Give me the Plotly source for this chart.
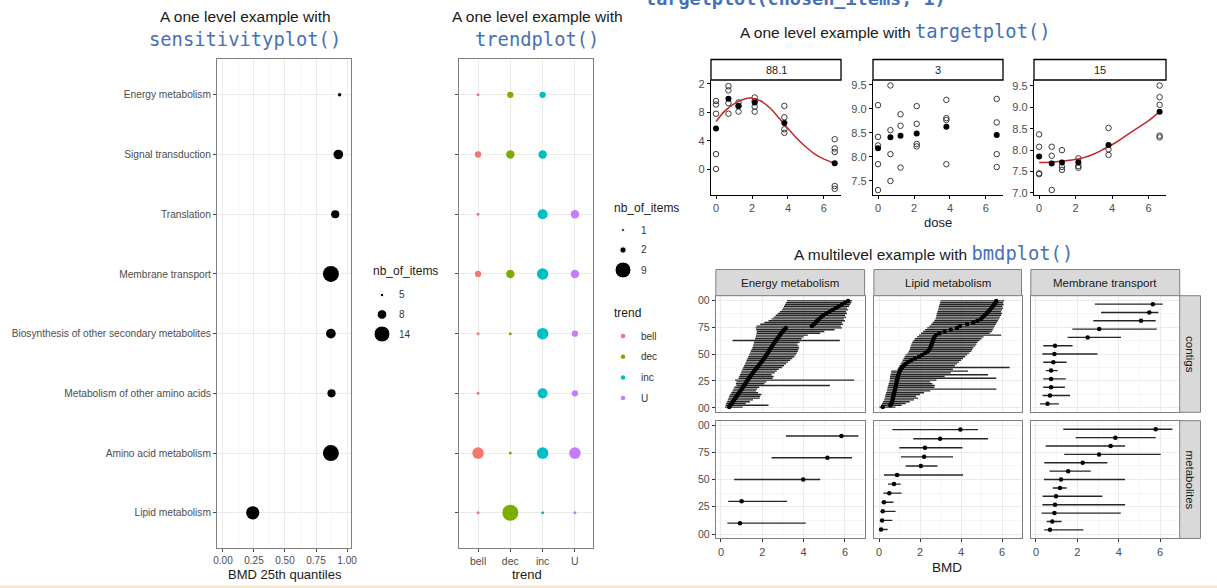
import numpy as np
import plotly.graph_objects as go

W, H = 1217, 588
def fx(p): return p / W
def fy(p): return 1 - p / H

# ---------------- data ----------------
pathways = ["Energy metabolism", "Signal transduction", "Translation", "Membrane transport",
            "Biosynthesis of other secondary metabolites", "Metabolism of other amino acids",
            "Amino acid metabolism", "Lipid metabolism"]
bmd25 = [0.94, 0.93, 0.905, 0.87, 0.87, 0.875, 0.87, 0.24]
nb_items_sens = [5, 8, 7, 14, 8, 7, 14, 11]
sens_legend_breaks = [5, 8, 14]

trend_levels = ["bell", "dec", "inc", "U"]
trend_colors = ["#F8766D", "#7CAE00", "#00BFC4", "#C77CFF"]
trend_bell = [1, 2, 1, 2, 1, 1, 5, 1]
trend_dec = [2, 3, None, 3, 1, None, 1, 9]
trend_inc = [2, 3, 4, 5, 5, 4, 5, 1]
trend_U = [None, None, 3, 3, 2, 2, 5, 1]
trend_legend_breaks = [1, 2, 9]

doses = [0, 0.69, 1.25, 2.15, 3.8, 6.6]
target_ids = ["88.1", "3", "15"]
t1_reps = [[8.96, 8.91, 8.78, 8.21, 8.00], [9.17, 9.11, 8.93, 8.78], [8.94, 8.89, 8.81],
           [9.01, 8.96, 8.88, 8.81], [8.89, 8.73, 8.56, 8.51], [8.42, 8.29, 8.24, 7.76, 7.72]]
t1_means = [8.57, 8.99, 8.89, 8.94, 8.65, 8.08]
t2_reps = [[9.08, 8.42, 8.24, 7.85, 7.31], [9.49, 8.56, 8.06, 7.50], [8.89, 8.65, 7.78],
           [9.06, 8.69, 8.27, 8.22], [9.19, 8.81, 8.77, 7.85], [9.21, 8.72, 8.06, 7.79]]
t2_means = [8.18, 8.41, 8.44, 8.49, 8.63, 8.46]
t3_reps = [[8.37, 8.08, 7.46, 7.44], [8.08, 7.87, 7.07], [8.00, 7.61, 7.54],
           [7.81, 7.63, 7.59], [8.52, 8.02, 7.89], [9.51, 9.24, 9.06, 8.34, 8.30]]
t3_means = [7.85, 7.69, 7.71, 7.72, 8.12, 8.90]
t1_curve_dose = [0, 0.5, 1, 1.5, 2, 2.5, 3, 3.5, 4, 4.5, 5, 5.5, 6, 6.6]
t1_curve_val = [8.67, 8.82, 8.92, 8.98, 9.00, 8.96, 8.86, 8.72, 8.57, 8.43, 8.31, 8.21, 8.14, 8.08]
t3_curve_dose = [0, 0.6, 1.2, 1.8, 2.4, 3.0, 3.6, 4.2, 4.8, 5.4, 6.0, 6.6]
t3_curve_val = [7.71, 7.72, 7.74, 7.77, 7.82, 7.91, 8.04, 8.18, 8.35, 8.52, 8.69, 8.90]

bmd_pathways = ["Energy metabolism", "Lipid metabolism", "Membrane transport"]
bmd_levels = ["contigs", "metabolites"]

energy_contigs_bmd = [0.40, 0.45, 0.52, 0.58, 0.63, 0.70, 0.76, 0.82, 0.88, 0.94,
                      1.00, 1.06, 1.12, 1.18, 1.23, 1.29, 1.35, 1.41, 1.47, 1.54,
                      1.61, 1.68, 1.75, 1.82, 1.88, 1.95, 2.02, 2.08, 2.14, 2.20,
                      2.26, 2.31, 2.36, 2.42, 2.48, 2.54, 2.60, 2.66, 2.72, 2.79,
                      2.85, 2.92, 2.99, 3.06, 3.14, 4.40, 4.50, 4.58, 4.66, 4.75,
                      4.85, 4.95, 5.10, 5.25, 5.40, 5.55, 5.70, 5.85, 6.00, 6.15]
energy_contigs_low = [0.20, 0.22, 0.25, 0.30, 0.33, 0.36, 0.40, 0.45, 0.50, 0.55,
                      0.60, 0.65, 0.75, 0.72, 0.75, 0.68, 0.85, 0.88, 0.92, 0.96,
                      1.00, 1.04, 1.08, 1.12, 1.16, 1.20, 1.24, 1.28, 1.32, 1.36,
                      1.40, 1.44, 1.48, 1.52, 1.55, 1.58, 1.60, 0.56, 1.65, 1.68,
                      1.70, 1.72, 1.74, 1.70, 1.68, 1.72, 1.90, 2.10, 2.30, 2.45,
                      2.55, 2.65, 2.75, 2.85, 2.95, 3.00, 3.05, 3.10, 3.15, 3.20]
energy_contigs_up = [1.05, 2.30, 1.20, 1.40, 1.55, 1.88, 1.90, 1.96, 1.80, 1.70,
                     1.75, 1.85, 5.27, 2.10, 2.20, 6.44, 2.50, 2.55, 2.45, 2.60,
                     2.70, 2.80, 2.95, 3.05, 3.15, 3.25, 3.35, 3.45, 3.55, 3.62,
                     3.68, 3.72, 3.75, 3.78, 3.75, 3.70, 3.80, 5.75, 3.90, 4.00,
                     4.20, 4.80, 5.00, 5.50, 5.85, 5.80, 5.90, 5.85, 6.00, 5.95,
                     6.05, 6.00, 6.10, 6.05, 6.15, 6.10, 6.20, 6.25, 6.30, 6.35]

lipid_contigs_bmd = [0.18, 0.55, 0.60, 0.63, 0.66, 0.68, 0.70, 0.72, 0.74, 0.76,
                     0.78, 0.80, 0.82, 0.84, 0.86, 0.88, 0.90, 0.92, 0.95, 0.98,
                     1.02, 1.06, 1.12, 1.20, 1.30, 1.42, 1.58, 1.75, 1.95, 2.10,
                     2.25, 2.38, 2.45, 2.50, 2.54, 2.57, 2.60, 2.63, 2.66, 2.70,
                     2.78, 2.95, 3.20, 3.50, 3.80, 3.95, 4.30, 4.60, 4.80, 4.98,
                     5.05, 5.15, 5.25, 5.32, 5.40, 5.48, 5.55, 5.62, 5.68, 5.72]
lipid_contigs_low = [0.02, 0.10, 0.15, 0.20, 0.25, 0.28, 0.30, 0.32, 0.35, 0.38,
                     0.40, 0.42, 0.45, 0.47, 0.50, 0.52, 0.53, 0.54, 0.56, 0.58,
                     0.60, 0.90, 0.95, 1.00, 1.05, 1.10, 1.15, 1.20, 1.25, 1.30,
                     1.40, 1.45, 1.50, 1.52, 1.55, 1.58, 1.62, 1.68, 1.75, 1.85,
                     1.95, 2.05, 2.15, 2.25, 2.35, 2.45, 2.55, 2.62, 2.70, 2.75,
                     2.78, 2.80, 2.82, 2.85, 2.88, 2.90, 2.92, 2.95, 2.98, 3.00]
lipid_contigs_up = [0.80, 1.10, 1.30, 1.50, 1.70, 1.90, 1.80, 2.00, 2.20, 2.50,
                    5.72, 2.70, 2.72, 2.60, 2.50, 2.80, 5.72, 3.20, 5.32, 3.50,
                    4.34, 3.60, 6.37, 3.70, 3.80, 3.90, 4.00, 4.10, 4.20, 4.30,
                    4.40, 4.50, 4.55, 4.60, 4.70, 4.75, 4.80, 4.90, 5.00, 5.10,
                    5.96, 5.40, 5.50, 5.55, 5.60, 5.65, 5.70, 5.75, 5.80, 5.85,
                    5.90, 5.95, 6.00, 5.95, 6.00, 6.05, 6.02, 6.08, 6.05, 6.10]

membrane_contigs_bmd = [0.56, 0.68, 0.73, 0.73, 0.73, 0.84, 0.89, 0.92, 2.50, 3.06, 5.08, 5.48, 5.65]
membrane_contigs_low = [0.19, 0.32, 0.35, 0.35, 0.48, 0.35, 0.31, 0.35, 1.53, 1.76, 2.77, 3.15, 2.85]
membrane_contigs_up = [1.11, 1.65, 1.40, 1.44, 1.05, 1.48, 2.97, 1.77, 4.11, 5.84, 5.79, 5.92, 6.13]

energy_metab_bmd = [0.92, 1.00, 3.98, 5.15, 5.83]
energy_metab_low = [0.31, 0.35, 0.64, 2.45, 3.14]
energy_metab_up = [4.10, 3.20, 4.80, 6.34, 6.65]

lipid_metab_bmd = [0.10, 0.15, 0.18, 0.24, 0.50, 0.73, 0.88, 2.04, 2.20, 2.24, 2.98, 3.97]
lipid_metab_low = [0.00, 0.05, 0.08, 0.13, 0.21, 0.44, 0.24, 1.30, 1.07, 0.99, 1.67, 0.65]
lipid_metab_up = [0.42, 0.65, 0.81, 0.70, 1.10, 1.05, 4.10, 2.85, 3.61, 4.07, 5.32, 4.83]

membrane_metab_bmd = [0.68, 0.79, 0.89, 0.92, 0.97, 1.16, 1.21, 1.56, 2.26, 3.05, 3.61, 3.84, 5.79]
membrane_metab_low = [0.40, 0.52, 0.27, 0.31, 0.32, 0.81, 0.39, 0.66, 0.40, 1.37, 0.47, 1.92, 1.32]
membrane_metab_up = [2.29, 1.24, 4.10, 4.31, 3.21, 1.48, 4.31, 2.65, 3.45, 6.03, 4.31, 5.79, 6.60]

# ---------------- styling ----------------
FONT = "Liberation Sans, Arial, sans-serif"
TITLEFONT = "Liberation Sans, Arial, sans-serif"
MONO = "DejaVu Sans Mono, Liberation Mono, monospace"
BLUE = "#4670B8"
TXT = "#4d4d4d"
GRID = "#EBEBEB"
MINOR = "#F5F5F5"
BORDER = "#808080"
TITLE_SIZE = 15.5
MONO_SIZE = 18.8


def size_sens(v):
    return float(np.sqrt(3.5 ** 2 + (16 ** 2 - 3.5 ** 2) * (v - 5) / 9))


def size_trend(v):
    return float(np.sqrt(3 ** 2 + (16 ** 2 - 3 ** 2) * (v - 1) / 8))


fig = go.Figure()
layout = dict(width=W, height=H, margin=dict(l=0, r=0, t=0, b=0, autoexpand=False), paper_bgcolor="white",
              plot_bgcolor="white", showlegend=False, font=dict(family=FONT, color="#1a1a1a"))
annotations = []
shapes = []


def ax_name(k, letter):
    return f"{letter}axis" if k == 1 else f"{letter}axis{k}"


def ref(k, letter):
    return letter if k == 1 else f"{letter}{k}"


def ann(x, y, text, size=12, color="#1a1a1a", family=FONT, xanchor="center", yanchor="middle", **kw):
    annotations.append(dict(x=fx(x), y=fy(y), xref="paper", yref="paper", text=text, showarrow=False,
                            font=dict(size=size, color=color, family=family), xanchor=xanchor,
                            yanchor=yanchor, **kw))

# ---------------- Panel A: sensitivityplot ----------------
row_dom = [fy(548), fy(59)]
fig.add_trace(go.Scatter(x=bmd25, y=pathways, mode="markers", xaxis="x", yaxis="y",
                         marker=dict(color="black", opacity=1, size=[size_sens(v) for v in nb_items_sens],
                                     line=dict(width=0))))
layout["xaxis"] = dict(domain=[fx(217), fx(351)], range=[-0.048, 1.032], anchor="y",
                       tickvals=[0, 0.25, 0.5, 0.75, 1.0], ticktext=["0.00", "0.25", "0.50", "0.75", "1.00"],
                       ticks="outside", ticklen=3, tickcolor=TXT, tickfont=dict(size=10, color=TXT),
                       showline=True, mirror=True, linecolor=BORDER, linewidth=1,
                       showgrid=True, gridcolor=GRID, zeroline=False,
                       minor=dict(tickvals=[0.125, 0.375, 0.625, 0.875], showgrid=True, gridcolor=MINOR))
layout["yaxis"] = dict(domain=row_dom, type="category", categoryorder="array",
                       categoryarray=pathways[::-1], range=[-0.59, 7.6], anchor="x",
                       ticks="outside", ticklen=3, tickcolor=TXT, tickfont=dict(size=10.2, color=TXT),
                       showline=True, mirror=True, linecolor=BORDER, linewidth=1,
                       showgrid=True, gridcolor=GRID, zeroline=False)
ann(245, 16, "A one level example with", size=TITLE_SIZE, family=TITLEFONT)
ann(245, 39, "sensitivityplot()", size=MONO_SIZE, family=MONO, color=BLUE)
ann(285, 574, "BMD 25th quantiles", size=13)

# ---------------- Panel B: trendplot ----------------
for lvl, col, vals in zip(trend_levels, trend_colors, [trend_bell, trend_dec, trend_inc, trend_U]):
    xs = [lvl for v in vals if v is not None]
    ys = [p for p, v in zip(pathways, vals) if v is not None]
    ss = [size_trend(v) for v in vals if v is not None]
    fig.add_trace(go.Scatter(x=xs, y=ys, mode="markers", xaxis="x2", yaxis="y2",
                             marker=dict(color=col, opacity=1, size=ss, line=dict(width=0))))
layout["xaxis2"] = dict(domain=[fx(459), fx(593)], type="category", categoryorder="array",
                        categoryarray=trend_levels, range=[-0.59, 3.56], anchor="y2",
                        ticks="outside", ticklen=3, tickcolor=TXT, tickfont=dict(size=10.5, color=TXT),
                        showline=True, mirror=True, linecolor=BORDER, linewidth=1,
                        showgrid=True, gridcolor=GRID, zeroline=False)
layout["yaxis2"] = dict(domain=row_dom, type="category", categoryorder="array",
                        categoryarray=pathways[::-1], range=[-0.59, 7.6], anchor="x2",
                        ticks="outside", ticklen=3, tickcolor=TXT, showticklabels=False,
                        showline=True, mirror=True, linecolor=BORDER, linewidth=1,
                        showgrid=True, gridcolor=GRID, zeroline=False)
ann(537, 17, "A one level example with", size=TITLE_SIZE, family=TITLEFONT)
ann(537, 39, "trendplot()", size=MONO_SIZE, family=MONO, color=BLUE)
ann(527, 574, "trend", size=13)

# ---------------- Panel C: targetplot ----------------
t_dom_x = [[711, 841], [873, 1003], [1034, 1166]]
t_ranges = [[7.633, 9.256], [7.208, 9.604], [6.953, 9.64]]
t_ticks = [([8.0, 8.4, 8.8, 9.2], ["0", "4", "8", "2"]),
           ([7.5, 8.0, 8.5, 9.0, 9.5], ["7.5", "8.0", "8.5", "9.0", "9.5"]),
           ([7.0, 7.5, 8.0, 8.5, 9.0, 9.5], ["7.0", "7.5", "8.0", "8.5", "9.0", "9.5"])]
t_reps = [t1_reps, t2_reps, t3_reps]
t_means = [t1_means, t2_means, t3_means]
t_curves = [(t1_curve_dose, t1_curve_val), None, (t3_curve_dose, t3_curve_val)]
for i in range(3):
    k = 3 + i
    xr, yr = ref(k, "x"), ref(k, "y")
    ox = [d for d, reps in zip(doses, t_reps[i]) for _ in reps]
    oy = [v for reps in t_reps[i] for v in reps]
    fig.add_trace(go.Scatter(x=ox, y=oy, mode="markers", xaxis=xr, yaxis=yr,
                             marker=dict(symbol="circle-open", size=5.5, color="#3a3a3a",
                                         line=dict(width=1, color="#3a3a3a"))))
    if t_curves[i] is not None:
        fig.add_trace(go.Scatter(x=t_curves[i][0], y=t_curves[i][1], mode="lines", xaxis=xr, yaxis=yr,
                                 line=dict(color="#C0282D", width=1.5, shape="spline")))
    fig.add_trace(go.Scatter(x=doses, y=t_means[i], mode="markers", xaxis=xr, yaxis=yr,
                             marker=dict(size=6, color="black")))
    layout[ax_name(k, "x")] = dict(domain=[fx(t_dom_x[i][0]), fx(t_dom_x[i][1])], range=[-0.28, 6.95],
                                   anchor=yr, tickvals=[0, 2, 4, 6], ticks="outside", ticklen=3,
                                   tickcolor="black", tickfont=dict(size=11, color=TXT),
                                   showline=True, linecolor="black", linewidth=1.2, showgrid=False,
                                   zeroline=False)
    layout[ax_name(k, "y")] = dict(domain=[fy(195), fy(80)], range=t_ranges[i], anchor=xr,
                                   tickvals=t_ticks[i][0], ticktext=t_ticks[i][1], ticks="outside",
                                   ticklen=3, tickcolor="black", tickfont=dict(size=11, color=TXT),
                                   showline=True, linecolor="black", linewidth=1.2, showgrid=False,
                                   zeroline=False)
    shapes.append(dict(type="rect", xref="paper", yref="paper", x0=fx(t_dom_x[i][0]), x1=fx(t_dom_x[i][1]),
                       y0=fy(80), y1=fy(59.5), fillcolor="white", line=dict(color="black", width=1.3)))
    ann((t_dom_x[i][0] + t_dom_x[i][1]) / 2, 70, target_ids[i], size=11)
ann(895, 31, 'A one level example with <span style="font-family:DejaVu Sans Mono, monospace;font-size:%gpx;color:%s">targetplot()</span>' % (MONO_SIZE, BLUE),
    size=TITLE_SIZE, family=TITLEFONT)
ann(938, 223, "dose", size=13)
ann(795, 11, "<b>targetplot(chosen_items, 1)</b>", size=18.5, family=MONO, color=BLUE, yanchor="bottom")

# ---------------- Panel D: bmdplot ----------------
d_cols = [[715.8, 864.6], [873.9, 1021.5], [1030.8, 1179.7]]
d_rows = [[295.7, 412.3], [420.7, 538.4]]
bmd_data = [[(energy_contigs_bmd, energy_contigs_low, energy_contigs_up),
             (lipid_contigs_bmd, lipid_contigs_low, lipid_contigs_up),
             (membrane_contigs_bmd, membrane_contigs_low, membrane_contigs_up)],
            [(energy_metab_bmd, energy_metab_low, energy_metab_up),
             (lipid_metab_bmd, lipid_metab_low, lipid_metab_up),
             (membrane_metab_bmd, membrane_metab_low, membrane_metab_up)]]
for r in range(2):
    for c in range(3):
        k = 6 + r * 3 + c
        xr, yr = ref(k, "x"), ref(k, "y")
        b, lo, up = (np.array(a, dtype=float) for a in bmd_data[r][c])
        order = np.argsort(b, kind="stable")
        b, lo, up = b[order], lo[order], up[order]
        n = len(b)
        ecdf = (np.arange(n) + 0.5) / n
        fig.add_trace(go.Scatter(x=b, y=ecdf, mode="markers", xaxis=xr, yaxis=yr,
                                 marker=dict(size=4.5, color="black"),
                                 error_x=dict(type="data", symmetric=False, array=up - b, arrayminus=b - lo,
                                              thickness=1.4, width=0, color="#262626")))
        layout[ax_name(k, "x")] = dict(domain=[fx(d_cols[c][0]), fx(d_cols[c][1])], range=[-0.25, 6.95],
                                       anchor=yr, tickvals=[0, 2, 4, 6],
                                       ticks="outside" if r == 1 else "", ticklen=3, tickcolor="#333",
                                       showticklabels=(r == 1), tickfont=dict(size=11, color=TXT),
                                       showline=True, mirror=True, linecolor=BORDER, linewidth=1,
                                       showgrid=True, gridcolor=GRID, zeroline=False,
                                       minor=dict(tickvals=[1, 3, 5], showgrid=True, gridcolor=MINOR))
        layout[ax_name(k, "y")] = dict(domain=[fy(d_rows[r][1]), fy(d_rows[r][0])], range=[-0.04, 1.04],
                                       anchor=xr, tickvals=[0, 0.25, 0.5, 0.75, 1.0],
                                       ticktext=["00", "25", "50", "75", "00"],
                                       ticks="outside" if c == 0 else "", ticklen=3, tickcolor="#333",
                                       showticklabels=(c == 0), tickfont=dict(size=10.5, color=TXT),
                                       showline=True, mirror=True, linecolor=BORDER, linewidth=1,
                                       showgrid=True, gridcolor=GRID, zeroline=False,
                                       minor=dict(tickvals=[0.125, 0.375, 0.625, 0.875], showgrid=True,
                                                  gridcolor=MINOR))
for c in range(3):
    shapes.append(dict(type="rect", xref="paper", yref="paper", x0=fx(d_cols[c][0]), x1=fx(d_cols[c][1]),
                       y0=fy(295.7), y1=fy(269.5), fillcolor="#D9D9D9", line=dict(color=BORDER, width=1)))
    ann((d_cols[c][0] + d_cols[c][1]) / 2, 282.5, bmd_pathways[c], size=11.5)
for r in range(2):
    shapes.append(dict(type="rect", xref="paper", yref="paper", x0=fx(1179.7), x1=fx(1200.5),
                       y0=fy(d_rows[r][1]), y1=fy(d_rows[r][0]), fillcolor="#D9D9D9",
                       line=dict(color=BORDER, width=1)))
    ann(1190, (d_rows[r][0] + d_rows[r][1]) / 2, bmd_levels[r], size=11.5, textangle=90)
ann(933, 253, 'A multilevel example with <span style="font-family:DejaVu Sans Mono, monospace;font-size:%gpx;color:%s">bmdplot()</span>' % (MONO_SIZE, BLUE),
    size=TITLE_SIZE, family=TITLEFONT)
ann(947, 567, "BMD", size=13.5)

# ---------------- legends (hidden pixel-scaled axes) ----------------
layout["xaxis12"] = dict(domain=[fx(360), fx(452)], range=[360, 452], visible=False, anchor="y12", fixedrange=True)
layout["yaxis12"] = dict(domain=[fy(345), fy(258)], range=[345, 258], visible=False, anchor="x12", fixedrange=True)
legA_y = [295 + 19.5 * i for i in range(len(sens_legend_breaks))]
fig.add_trace(go.Scatter(x=[382] * len(sens_legend_breaks), y=legA_y, mode="markers", xaxis="x12", yaxis="y12",
                         marker=dict(color="black", opacity=1, size=[size_sens(v) for v in sens_legend_breaks]),
                         cliponaxis=False))
ann(371, 271, "nb_of_items", size=12, xanchor="left")
for yy, v in zip(legA_y, sens_legend_breaks):
    ann(397, yy, str(v), size=10, color="#333", xanchor="left")

layout["xaxis13"] = dict(domain=[fx(600), fx(688)], range=[600, 688], visible=False, anchor="y13", fixedrange=True)
layout["yaxis13"] = dict(domain=[fy(410), fy(195)], range=[410, 195], visible=False, anchor="x13", fixedrange=True)
legB_y = [230 + 20 * i for i in range(len(trend_legend_breaks))]
fig.add_trace(go.Scatter(x=[623] * len(trend_legend_breaks), y=legB_y, mode="markers", xaxis="x13", yaxis="y13",
                         marker=dict(color="black", opacity=1, size=[size_trend(v) for v in trend_legend_breaks]),
                         cliponaxis=False))
ann(612, 208, "nb_of_items", size=12, xanchor="left")
for yy, v in zip(legB_y, trend_legend_breaks):
    ann(639, yy, str(v), size=10, color="#333", xanchor="left")
legT_y = [336 + 20.7 * i for i in range(len(trend_levels))]
fig.add_trace(go.Scatter(x=[623] * len(trend_levels), y=legT_y, mode="markers", xaxis="x13", yaxis="y13",
                         marker=dict(color=trend_colors, opacity=1, size=4.5), cliponaxis=False))
ann(612, 313, "trend", size=12, xanchor="left")
for yy, lvl in zip(legT_y, trend_levels):
    ann(639, yy, lvl, size=10, color="#333", xanchor="left")

# faint page edge (photo border)
shapes.append(dict(type="rect", xref="paper", yref="paper", x0=0, x1=1, y0=0, y1=fy(585.5),
                   fillcolor="#FCE6CC", line=dict(width=0), layer="below"))

layout["annotations"] = annotations
layout["shapes"] = shapes
fig.update_layout(**layout)
fig.write_html("out.html", config={"displayModeBar": False, "staticPlot": True},
               post_script="document.body.style.margin='0px';document.body.style.overflow='hidden';")
